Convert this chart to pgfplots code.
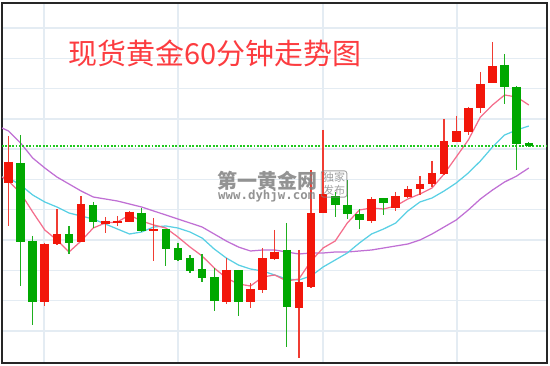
\documentclass[border=0pt]{standalone}
\usepackage{pgfplots}
\pgfplotsset{compat=1.18}
\usepackage{pgfplotstable}
\usepackage{fontspec}
\newfontfamily\cjk{Noto Sans CJK SC}
\newfontfamily\wmmono{DejaVu Sans Mono}
\definecolor{cred}{RGB}{242,22,10}
\definecolor{cgreen}{RGB}{0,168,0}
\definecolor{credwick}{RGB}{240,60,50}
\definecolor{cgreenwick}{RGB}{30,175,30}
\definecolor{gridc}{RGB}{228,236,243}
\definecolor{mapink}{RGB}{244,110,140}
\definecolor{macyan}{RGB}{90,208,228}
\definecolor{mapurple}{RGB}{192,112,212}
\definecolor{titlered}{RGB}{252,60,64}
\definecolor{dotgreen}{RGB}{30,200,30}
\definecolor{wmgray}{RGB}{128,128,128}

\pgfplotstableread{
x bt bb wt wb
8.5 162 183 136 226
44.8 244 302 243 306
56.9 234 244 209 245
81.1 204 242 196 242
105.3 221 224 217 233
117.4 221 223 216 226
129.5 212 222 211 222
153.7 229 231 218 261
226.3 270 302 258 304
250.5 289 302 283 308
262.6 258 290 248 293
274.7 252 259 230 260
298.9 282 308 250 358
311.0 213 287 170 288
323.1 194 213 130 213
371.5 199 221 197 223
395.7 196 208 192 211
407.8 189 197 186 198
419.9 184 189 176 195
432.0 173 184 161 187
444.1 141 174 119 175
456.2 131 142 116 142
468.3 108 132 107 135
480.4 84 108 72 113
492.5 66 83 42 83
}\redc

\pgfplotstableread{
x bt bb wt wb
20.6 163 242 135 286
32.7 241 302 236 325
69.0 234 243 226 254
93.2 205 222 202 228
141.6 213 231 208 232
165.8 229 249 229 266
177.9 248 260 243 261
190.0 258 271 255 273
202.1 269 278 254 282
214.2 277 301 268 311
238.4 270 302 270 316
286.8 250 307 223 347
335.2 196 205 192 217
347.3 205 214 180 219
359.4 214 220 209 229
383.6 198 203 198 215
504.6 65 87 54 104
516.7 87 144 86 170
528.8 143 146 142 147
}\greenc

\pgfplotstableread{
x pk cy pu
2 177 177 128
8.5 181 178 131
20.6 193 185 143
32.7 212 195 158
44.8 230 202 168
56.9 240 207 177
69.0 252 213 184
81.1 241 216 191
93.2 228 219 197
105.3 223 224 199
117.4 222 229 201
129.5 215 234 204
141.6 221 232 207
153.7 225 227 211
165.8 228 226 215
177.9 237 228 219
190.0 247 232 223
202.1 256 238 227
214.2 268 249 234
226.3 278 258 241
238.4 284 265 247
250.5 286 269 251
262.6 277 271 250
274.7 275 275 250
286.8 281 279 252
298.9 279 280 254
311.0 261 276 253
323.1 248 267 253
335.2 241 260 252
347.3 223 253 252
359.4 210 243 251
371.5 208 234 250
383.6 209 229 248
395.7 206 223 246
407.8 199 211 244
419.9 194 202 240
432.0 188 198 234
444.1 174 191 227
456.2 157 183 220
468.3 140 173 210
480.4 117 161 199
492.5 105 147 190
504.6 95 135 182
516.7 97 130 176
528.8 105 126 168
}\ma

\begin{document}
\begin{tikzpicture}
\path[use as bounding box] (0,0) rectangle (550pt,366pt);
\begin{axis}[
  at={(274.5pt,183pt)}, anchor=center,
  width=545pt, height=360pt, scale only axis,
  xmin=2, xmax=547, ymin=3, ymax=363, y dir=reverse,
  axis line style={line width=1.3pt, black!85},
  xtick={44,178,323,457},
  ytick={28,58.3,88.6,118.9,149.2,179.5,209.8,240.1,270.4,300.7,331},
  xticklabels={}, yticklabels={},
  major tick length=0pt,
  grid=major, major grid style={line width=1.4pt, color=gridc},
  candle/.style={draw=none, mark=none, forget plot,
    error bars/.cd, y dir=plus, y explicit, error mark=none},
]
% moving averages
\addplot[mapurple, line width=1.25pt, mark=none] table[x=x, y=pu]{\ma};
\addplot[macyan, line width=1.25pt, mark=none] table[x=x, y=cy]{\ma};
\addplot[mapink, line width=1.25pt, mark=none] table[x=x, y=pk]{\ma};
% dotted level
\addplot[draw=dotgreen, line width=1.1pt, mark=none, dash pattern=on 1.8pt off 1.6pt] coordinates {(2,146) (547,146)};
% wicks
\addplot[candle, error bar style={line width=1.3pt, draw=credwick, solid}]
  table[x=x, y=wt, y error plus expr=\thisrow{wb}-\thisrow{wt}]{\redc};
\addplot[candle, error bar style={line width=1.3pt, draw=cgreenwick, solid}]
  table[x=x, y=wt, y error plus expr=\thisrow{wb}-\thisrow{wt}]{\greenc};
% bodies
\addplot[candle, error bar style={line width=8.6pt, draw=cred, solid}]
  table[x=x, y=bt, y error plus expr=\thisrow{bb}-\thisrow{bt}]{\redc};
\addplot[candle, error bar style={line width=8.6pt, draw=cgreen, solid}]
  table[x=x, y=bt, y error plus expr=\thisrow{bb}-\thisrow{bt}]{\greenc};
% title
\node[anchor=base west, inner sep=0pt, text=titlered, font=\cjk\fontsize{29}{29}\selectfont]
  at (axis cs:68,65) {现货黄金60分钟走势图};
% watermark
\node[anchor=base west, inner sep=0pt, text=wmgray, opacity=0.85, font=\cjk\bfseries\fontsize{20}{20}\selectfont]
  at (axis cs:217,189) {第一黄金网};
\node[anchor=base west, inner sep=0pt, text=wmgray, opacity=0.85, font=\wmmono\bfseries\fontsize{12.4}{12.4}\selectfont]
  at (axis cs:218,199.5) {www.dyhjw.com};
\node[draw=wmgray, rounded corners=2.5pt, line width=0.9pt, opacity=0.75, text=wmgray,
  inner xsep=1.8pt, inner ysep=1.8pt, align=center, font=\cjk\fontsize{11}{12.5}\selectfont]
  at (axis cs:334,184) {独家\\发布};
\end{axis}
\end{tikzpicture}
\end{document}
